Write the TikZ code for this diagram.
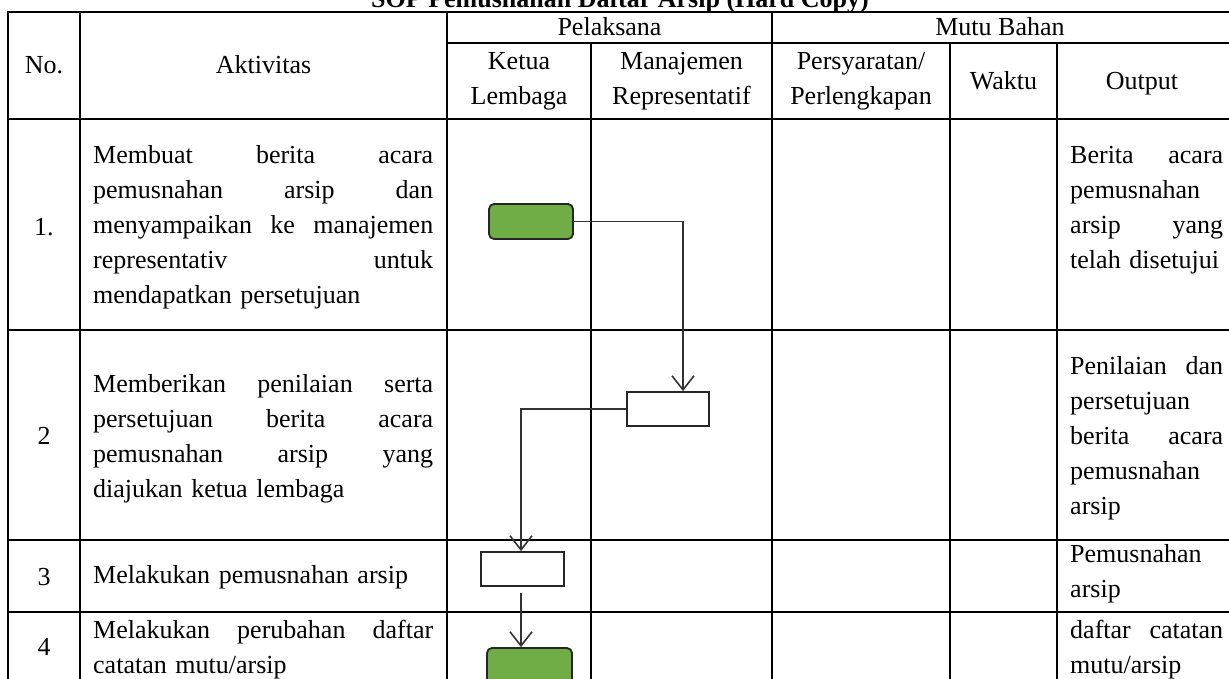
\documentclass[tikz,border=0pt]{standalone}
\usepackage{fontspec}
\setmainfont{Liberation Serif}
\usetikzlibrary{arrows.meta}
\definecolor{boxgreen}{HTML}{70AD47}
\newcommand\cellstrut{\rule{0pt}{21pt}}
\begin{document}
\begin{tikzpicture}[x=1pt,y=-1pt,
  tline/.style={line width=2.4pt, line cap=rect},
  txt/.style={font=\fontsize{26}{35}\selectfont, inner sep=0pt},
  cell/.style={txt, anchor=north west, align=left},
  hdr/.style={txt, align=center},
  wbox/.style={draw=black!85, line width=1.8pt, fill=white, inner sep=0pt},
  gbox/.style={wbox, fill=boxgreen, rounded corners=5pt},
  conn/.style={draw=black!80, line width=1.6pt},
  arr/.style={conn, -{Straight Barb[length=14pt,width=22pt,line width=1.6pt]}}
]
\useasboundingbox (0,0) rectangle (1229,679);
% title
\node[inner sep=0pt, font=\fontsize{26}{30}\selectfont\bfseries, anchor=base] (title) at (620,8) {SOP Pemusnahan Daftar Arsip (Hard Copy)};
% grid
\draw[tline] (8,12) -- (1240,12);
\draw[tline] (447,43) -- (1240,43);
\draw[tline] (8,119) -- (1240,119);
\draw[tline] (8,330) -- (1240,330);
\draw[tline] (8,540) -- (1240,540);
\draw[tline] (8,612) -- (1240,612);
\draw[tline] (8,12) -- (8,690);
\draw[tline] (80,12) -- (80,690);
\draw[tline] (447,12) -- (447,690);
\draw[tline] (591,43) -- (591,690);
\draw[tline] (772,12) -- (772,690);
\draw[tline] (950,43) -- (950,690);
\draw[tline] (1057,43) -- (1057,690);
% headers
\node[txt, anchor=base] (hno) at (44,74) {No.};
\node[txt, anchor=base] (hakt) at (263.5,74) {Aktivitas};
\node[txt, anchor=base] (hpel) at (609.5,36) {Pelaksana};
\node[txt, anchor=base] (hmutu) at (1000,36) {Mutu Bahan};
\node[hdr] (hketua) at (519,81) {Ketua\\Lembaga};
\node[hdr] (hman) at (681.5,81) {Manajemen\\Representatif};
\node[hdr] (hpers) at (861,81) {Persyaratan/\\Perlengkapan};
\node[txt, anchor=base] (hwaktu) at (1003.5,89.5) {Waktu};
\node[txt, anchor=base] (hout) at (1142,89.5) {Output};
% numbers
\node[txt, anchor=base] (n1) at (44,236) {1.};
\node[txt, anchor=base] (n2) at (44,444) {2};
\node[txt, anchor=base] (n3) at (44,585) {3};
\node[txt, anchor=base] (n4) at (44,655) {4};
% activities
\node[cell, text width=340pt] (a1) at (93,142) {\cellstrut Membuat\hfill berita\hfill acara\\ pemusnahan\hfill arsip\hfill dan\\ menyampaikan\hfill ke\hfill manajemen\\ representativ\hfill untuk\\ mendapatkan persetujuan};
\node[cell, text width=340pt] (a2) at (93,371) {\cellstrut Memberikan\hfill penilaian\hfill serta\\ persetujuan\hfill berita\hfill acara\\ pemusnahan\hfill arsip\hfill yang\\ diajukan ketua lembaga};
\node[cell, text width=340pt] (a3) at (93,562) {\cellstrut Melakukan pemusnahan arsip};
\node[cell, text width=340pt] (a4) at (93,617) {\cellstrut Melakukan\hfill perubahan\hfill daftar\\ catatan mutu/arsip};
% outputs
\node[cell, text width=153pt] (o1) at (1070,142) {\cellstrut Berita\hfill acara\\ pemusnahan\\ arsip\hfill yang\\ telah disetujui};
\node[cell, text width=153pt] (o2) at (1070,353) {\cellstrut Penilaian\hfill dan\\ persetujuan\\ berita\hfill acara\\ pemusnahan\\ arsip};
\node[cell, text width=153pt] (o3) at (1070,541) {\cellstrut Pemusnahan\\ arsip};
\node[cell, text width=153pt] (o4) at (1070,617) {\cellstrut daftar\hfill catatan\\ mutu/arsip};
% flow boxes
\node[gbox, minimum width=84pt, minimum height=35pt] (b1) at (531,221.5) {};
\node[wbox, minimum width=82pt, minimum height=34pt] (b2) at (668,409) {};
\node[wbox, minimum width=83pt, minimum height=34pt] (b3) at (522.5,569) {};
\node[gbox, minimum width=85pt, minimum height=36pt] (b4) at (529.5,666) {};
% connectors
\draw[arr] (b1.east) -| ([xshift=15pt]b2.north);
\draw[arr] (b2.west) -| ([xshift=-1.5pt]b3.north);
\draw[arr, shorten <=6pt] ([xshift=-1.5pt]b3.south) -- ([xshift=-1.5pt]b3.south |- b4.north);
\end{tikzpicture}
\end{document}
